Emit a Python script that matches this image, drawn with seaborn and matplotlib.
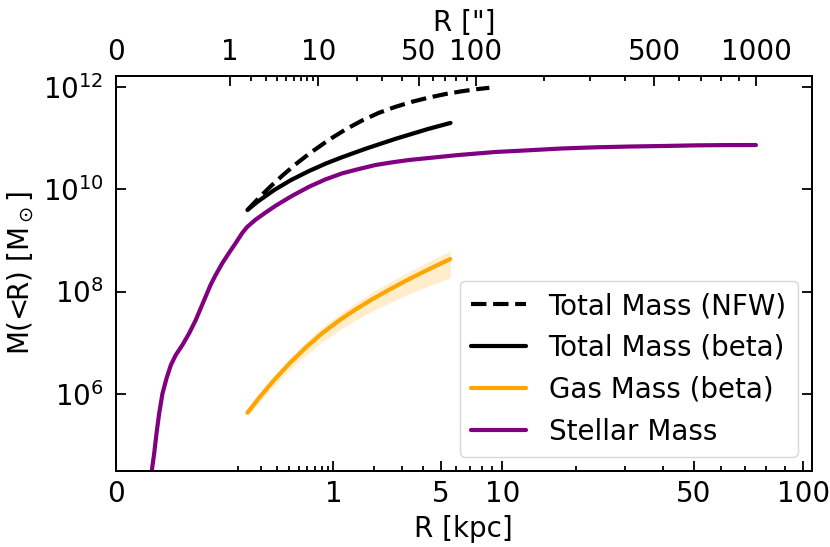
import numpy as np
import matplotlib
matplotlib.use('Agg')
import matplotlib.pyplot as plt
from matplotlib.ticker import NullLocator
import seaborn as sns

# conversion for the top axis and x range (kpc)
kpc_per_arcsec = 0.0752
r_max = 105.0

# stellar mass profile (kpc, log10 Msun)
r_star = [0.00059, 0.00074, 0.000951, 0.001205, 0.001553, 0.002089, 0.002902, 0.004031,
          0.005708, 0.008703, 0.01274, 0.01804, 0.02299, 0.0289, 0.03587, 0.04404,
          0.057, 0.07266, 0.09131, 0.1134, 0.1324, 0.1692, 0.223, 0.2938, 0.4322,
          0.6241, 0.8566, 1.1757, 1.561, 2.034, 2.607, 3.291, 4.564, 6.167, 9.285,
          12.94, 17.59, 23.58, 31.3, 40.2, 51.1, 62.5, 75.2]
logm_star = [4.15, 4.51, 4.84, 5.23, 5.62, 6.01, 6.30, 6.56, 6.76, 6.955, 7.18, 7.44,
             7.67, 7.90, 8.13, 8.32, 8.55, 8.75, 8.94, 9.14, 9.26, 9.40, 9.54, 9.68,
             9.87, 10.047, 10.187, 10.309, 10.393, 10.471, 10.523, 10.568, 10.617,
             10.666, 10.725, 10.758, 10.793, 10.816, 10.832, 10.842, 10.855, 10.86,
             10.861]

# total mass, beta model
r_tot = [0.1337, 0.1791, 0.2815, 0.4226, 0.6238, 0.8729, 1.1694, 1.7479, 2.746,
         4.281, 5.613]
logm_tot = [9.592, 9.752, 9.984, 10.180, 10.355, 10.502, 10.623, 10.791, 10.984,
            11.178, 11.293]
tot_err_dex = [0.035, 0.035, 0.035, 0.035, 0.035, 0.035, 0.035, 0.035, 0.035, 0.035,
               0.035]

# total mass, NFW
r_nfw = [0.1337, 0.1946, 0.2608, 0.3425, 0.4623, 0.6238, 0.9235, 1.254, 1.6392,
         2.1394, 2.746, 3.473, 4.281, 5.286, 6.385, 7.562, 8.709]
logm_nfw = [9.592, 9.858, 10.066, 10.262, 10.479, 10.691, 10.965, 11.170, 11.338,
            11.490, 11.609, 11.709, 11.787, 11.857, 11.910, 11.951, 11.979]

# gas mass, beta model
r_gas = [0.1337, 0.1894, 0.2696, 0.4037, 0.5825, 0.8087, 1.1086, 1.4856, 1.9302,
         2.4823, 3.145, 4.2274, 5.5925]
logm_gas = [5.633, 5.930, 6.238, 6.590, 6.906, 7.184, 7.432, 7.654, 7.848, 8.031,
            8.205, 8.424, 8.633]
gas_err_lo_dex = [0.07, 0.09, 0.11, 0.13, 0.15, 0.17, 0.19, 0.21, 0.23, 0.26, 0.28,
                  0.32, 0.37]
gas_err_hi_dex = [0.07, 0.08, 0.09, 0.10, 0.11, 0.115, 0.12, 0.13, 0.135, 0.14,
                  0.145, 0.15, 0.16]

xticks = [0, 1, 5, 10, 50, 100]
xticks_minor = [0.1, 0.2, 0.3, 0.4, 0.5, 0.6, 0.7, 0.8, 0.9, 2, 3, 4, 6, 7, 8, 9,
                20, 30, 40, 60, 70, 80, 90]
top_ticks = [0, 1, 10, 50, 100, 500, 1000]
top_ticks_minor = [2, 3, 4, 5, 6, 7, 8, 9, 20, 30, 40, 60, 70, 80, 90,
                   200, 300, 400, 600, 700, 800, 900]
yticks = [1e6, 1e8, 1e10, 1e12]


def fwd(x):
    x = np.asarray(x, dtype=float)
    return np.sign(x) * np.abs(x) ** 0.25


def inv(u):
    u = np.asarray(u, dtype=float)
    return np.sign(u) * u ** 4


sns.set_style('ticks', {'xtick.direction': 'in', 'ytick.direction': 'in',
                        'axes.edgecolor': 'black', 'xtick.color': 'black',
                        'ytick.color': 'black', 'text.color': 'black',
                        'axes.labelcolor': 'black'})
plt.rcParams['font.family'] = ['DejaVu Sans']
plt.rcParams.update({'font.size': 20, 'axes.labelsize': 20, 'xtick.labelsize': 20,
                     'ytick.labelsize': 20, 'legend.fontsize': 20,
                     'axes.linewidth': 1.3})

fig = plt.figure(figsize=(8.3, 5.47), dpi=100)
ax = fig.add_axes([0.1398, 0.1395, 0.8381, 0.7221])

logm_tot = np.array(logm_tot)
logm_gas = np.array(logm_gas)
ax.fill_between(r_tot, 10 ** (logm_tot - tot_err_dex), 10 ** (logm_tot + tot_err_dex),
                color='grey', alpha=0.3, lw=0)
ax.fill_between(r_gas, 10 ** (logm_gas - gas_err_lo_dex), 10 ** (logm_gas + gas_err_hi_dex),
                color='orange', alpha=0.2, lw=0)

sns.lineplot(x=r_nfw, y=10 ** np.array(logm_nfw), ax=ax, color='black', lw=3,
             linestyle='--', label='Total Mass (NFW)')
sns.lineplot(x=r_tot, y=10 ** logm_tot, ax=ax, color='black', lw=3,
             label='Total Mass (beta)')
sns.lineplot(x=r_gas, y=10 ** logm_gas, ax=ax, color='orange', lw=3,
             label='Gas Mass (beta)')
sns.lineplot(x=r_star, y=10 ** np.array(logm_star), ax=ax, color='purple', lw=3,
             label='Stellar Mass')

ax.set_xscale('function', functions=(fwd, inv))
ax.set_yscale('log')
ax.set_xlim(0, r_max)
ax.set_ylim(10 ** 4.5, 10 ** 12.215)
ax.set_xticks(xticks, labels=[str(t) for t in xticks])
ax.set_xticks(xticks_minor, minor=True)
ax.set_yticks(yticks)
ax.yaxis.set_minor_locator(NullLocator())
ax.tick_params(which='both', direction='in', top=False, right=True, width=1.3)
ax.tick_params(which='major', length=7)
ax.tick_params(which='minor', length=3.5)
ax.tick_params(axis='x', which='both', pad=7)
ax.tick_params(axis='y', which='both', pad=9)
ax.set_xlabel('R [kpc]', labelpad=5)
ax.set_ylabel(r'M(<R) [M$_\odot$]', labelpad=5)
ax.legend(loc='lower right')

# top axis in arcsec
ax2 = ax.twiny()
ax2.set_xscale('function', functions=(lambda a: fwd(np.asarray(a) * kpc_per_arcsec),
                                      lambda u: inv(u) / kpc_per_arcsec))
ax2.set_xlim(0, r_max / kpc_per_arcsec)
ax2.set_xticks(top_ticks, labels=[str(t) for t in top_ticks])
ax2.set_xticks(top_ticks_minor, minor=True)
ax2.tick_params(which='both', direction='in', width=1.3, pad=7)
ax2.tick_params(which='major', length=7)
ax2.tick_params(which='minor', length=3.5)
ax2.set_xlabel('R ["]', labelpad=5)

fig.savefig('out.png', dpi=100)
